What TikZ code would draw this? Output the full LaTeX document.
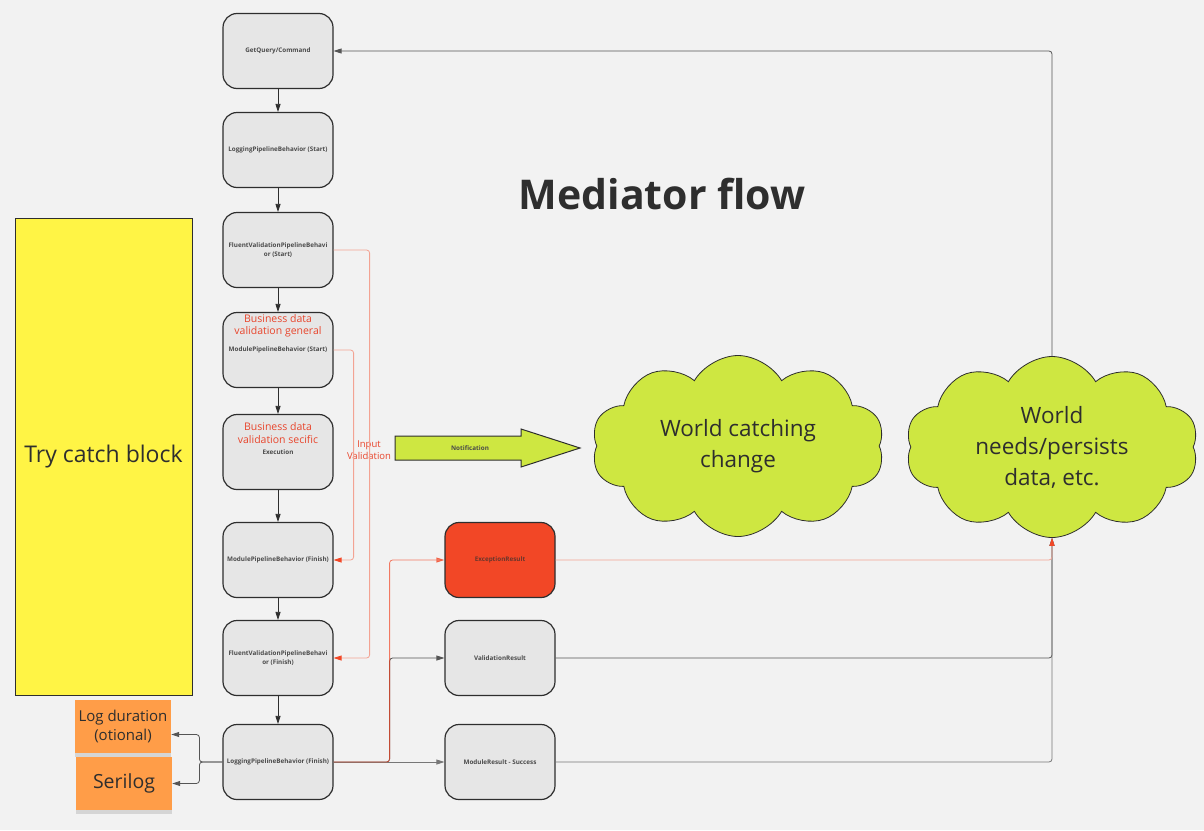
\documentclass[tikz,border=0pt]{standalone}
\usepackage{fontspec}
\setmainfont{Open Sans}
\usepackage{tikz}
\usetikzlibrary{shapes.symbols}
\usetikzlibrary{shadows}
\usetikzlibrary{arrows.meta}
\definecolor{canvas}{HTML}{F2F2F2}
\definecolor{boxgrey}{HTML}{E6E6E6}
\definecolor{boxline}{HTML}{2E2E2E}
\definecolor{boxtext}{HTML}{4A4A4A}
\definecolor{excred}{HTML}{F24726}
\definecolor{lime}{HTML}{CEE741}
\definecolor{tryyellow}{HTML}{FFF445}
\definecolor{noteorange}{HTML}{FF9D48}
\definecolor{salmon}{HTML}{F3A393}
\definecolor{redtxt}{HTML}{E8452C}
\definecolor{wire}{HTML}{555555}
\begin{document}
\begin{tikzpicture}[x=1pt,y=-1pt]
\tikzstyle box=[draw=boxline, line width=1.2pt, fill=boxgrey, rounded corners=14pt, minimum width=110pt, minimum height=75pt, align=center, text=boxtext, font=\fontsize{6.3}{8.5}\selectfont\bfseries, inner sep=2pt];
\tikzstyle redtext=[text=redtxt, align=center, font=\fontsize{10.5}{12.5}\selectfont];
\tikzstyle arr=[draw=boxline, line width=0.8pt, -{Triangle[length=8pt,width=5pt]}];
\tikzstyle wirearr=[draw=wire, line width=0.8pt, rounded corners=3pt, -{Triangle[length=8pt,width=5pt]}];
\tikzstyle redarr=[draw=salmon, line width=0.8pt, rounded corners=3pt, -{Triangle[length=8pt,width=5pt,color=excred]}];
\tikzstyle worldcloud=[cloud, cloud puffs=10, cloud puff arc=120, cloud ignores aspect, draw=boxline, line width=0.8pt, fill=lime, minimum width=293pt, minimum height=181pt, inner sep=0pt, align=center, text=boxline, font=\fontsize{22.5}{31}\selectfont];
\tikzstyle sticky=[fill=noteorange, minimum width=96pt, minimum height=53pt, align=center, text=boxline, drop shadow={shadow xshift=0pt, shadow yshift=-4pt, opacity=0.25}];
\fill[canvas] (0,0) rectangle (1204,830);
\useasboundingbox (0,0) rectangle (1204,830);
\node[font=\fontsize{41}{46}\selectfont\bfseries, text=boxline] (title) at (662,194) {Mediator flow};
\node[draw=boxline, line width=0.8pt, fill=tryyellow, minimum width=177pt, minimum height=477pt, font=\fontsize{23}{28}\selectfont, text=boxline] (try) at (103.5,456.5) {Try catch block};
\node[box] (get) at (278,51) {GetQuery/Command};
\node[box] (logs) at (278,150) {LoggingPipelineBehavior (Start)};
\node[box] (fvs) at (278,250) {FluentValidationPipelineBehavi\\or (Start)};
\node[box] (mods) at (278,350) {ModulePipelineBehavior (Start)};
\node[box] (exe) at (278,452) {Execution};
\node[box] (modf) at (278,560) {ModulePipelineBehavior (Finish)};
\node[box] (fvf) at (278,658) {FluentValidationPipelineBehavi\\or (Finish)};
\node[box] (logf) at (278,762) {LoggingPipelineBehavior (Finish)};
\node[box, fill=excred, text=boxline!70!excred] (exc) at (500,560) {ExceptionResult};
\node[box] (valr) at (500,658) {ValidationResult};
\node[box] (modr) at (500,762) {ModuleResult - Success};
\node[redtext] (bdg) at (278,326) {Business data\\validation general};
\node[redtext] (bds) at (278,433) {Business data\\validation secific};
\node[redtext, font=\fontsize{9.5}{12.5}\selectfont] (inval) at (369,450) {Input\\Validation};
\node[sticky, font=\fontsize{15}{19}\selectfont] (logd) at (123,726.5) {Log duration\\(otional)};
\node[sticky, font=\fontsize{19.5}{24}\selectfont] (seri) at (124,783.5) {Serilog};
\node[worldcloud] (catch) at (738,446) {World catching\\change};
\node[worldcloud] (needs) at (1052,447) {World\\needs/persists\\data, etc.};
\draw[draw=boxline, line width=1pt, fill=lime] (395,436) -- (521,436) -- (521,429) -- (580,448) -- (521,467) -- (521,460) -- (395,460) -- cycle;
\node[font=\fontsize{6.3}{8.5}\selectfont\bfseries, text=boxtext] (note) at (470,448) {Notification};
\draw[arr] (get) -- (logs);
\draw[arr] (logs) -- (fvs);
\draw[arr] (fvs) -- (mods);
\draw[arr] (mods) -- (exe);
\draw[arr] (exe) -- (modf);
\draw[arr] (modf) -- (fvf);
\draw[arr] (fvf) -- (logf);
\draw[wirearr] (needs.north) |- (get.east);
\draw[redarr] (fvs.east) -- ++(36,0) |- (fvf.east);
\draw[redarr] (mods.east) -- ++(20,0) |- (modf.east);
\draw[wirearr] (logf.east) -- ++(56,0) |- (valr.west);
\draw[wirearr, draw=wire!80] (logf) -- (modr);
\draw[redarr, draw=excred, opacity=0.7] (logf.east) -- ++(56,0) |- (exc.west);
\draw[wirearr] (valr.east) -| (needs.south);
\draw[wirearr, draw=wire!80] (modr.east) -| (needs.south);
\draw[redarr] (exc.east) -| (needs.south);
\draw[wirearr] (logf.west) -- ++(-23,0) |- ([yshift=-8pt]logd.east);
\draw[wirearr] (logf.west) -- ++(-23,0) |- (seri.east);
\end{tikzpicture}
\end{document}
